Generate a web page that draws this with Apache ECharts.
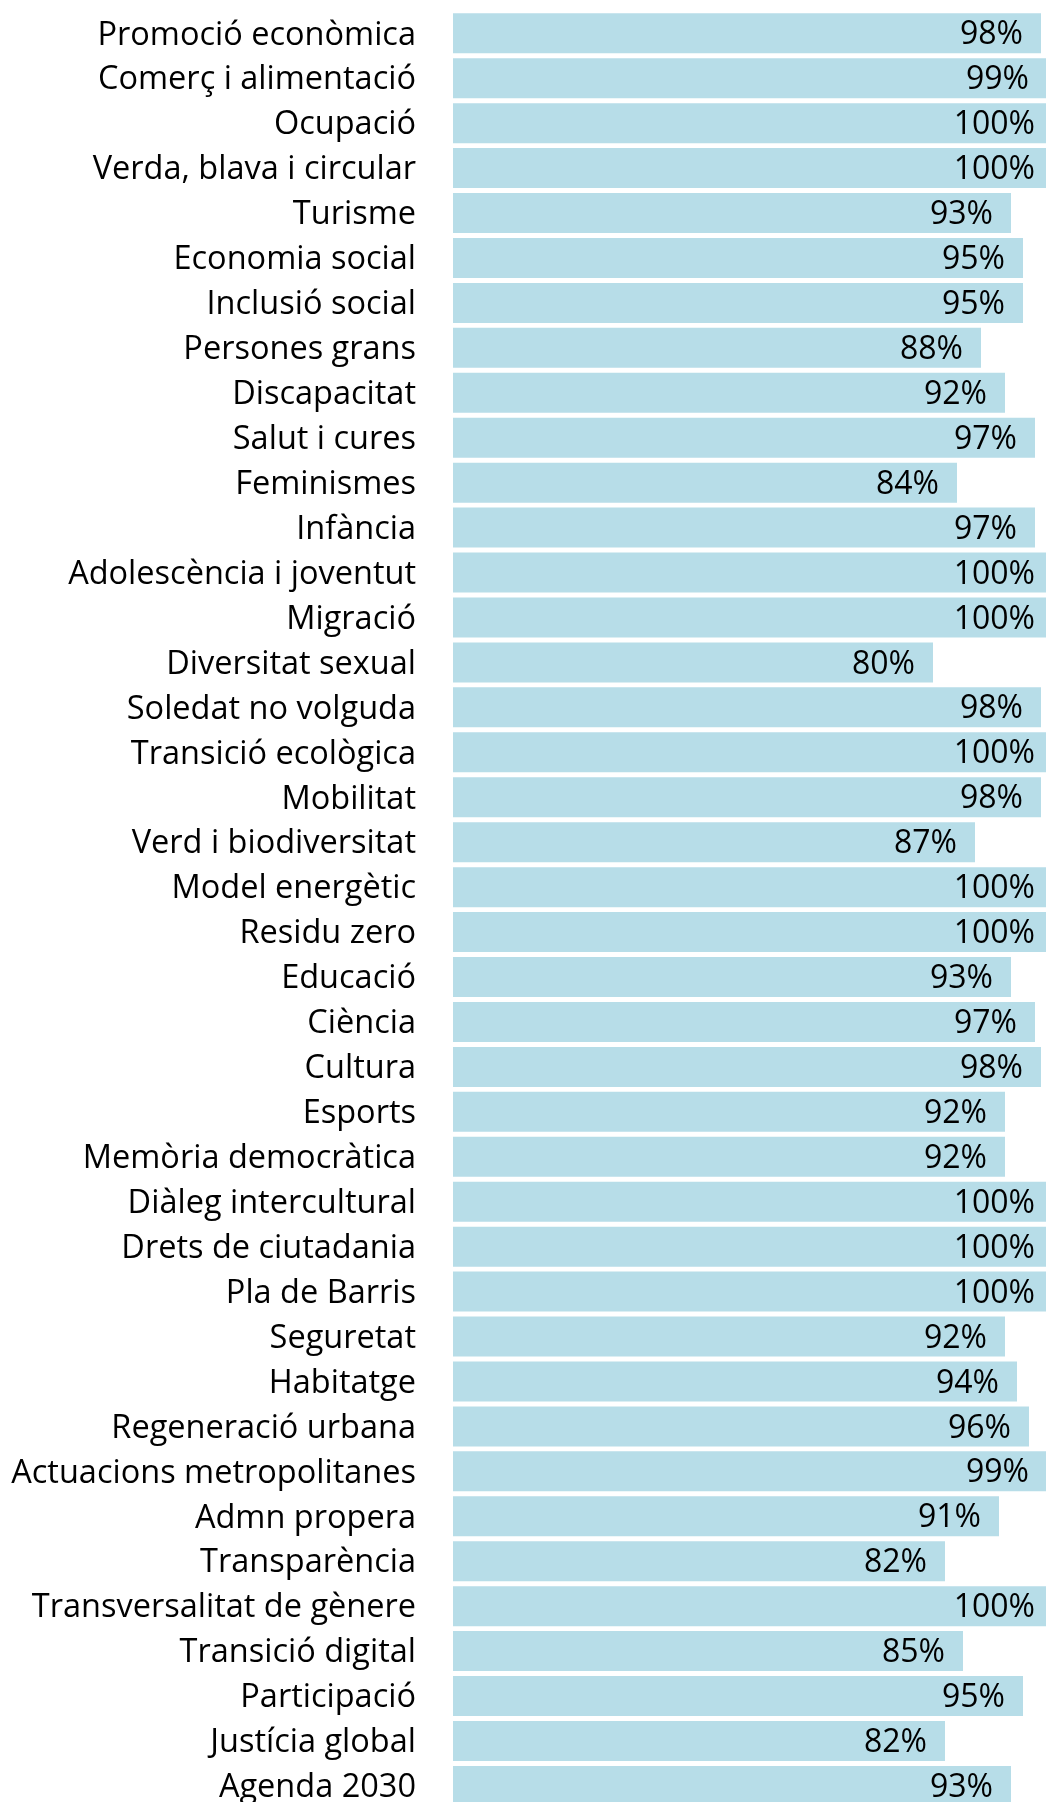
<!DOCTYPE html>
<html>
<head>
<meta charset="utf-8">
<script src="https://cdn.jsdelivr.net/npm/echarts@6/dist/echarts.min.js"></script>
<style>
html,body{margin:0;padding:0;background:#fff;overflow:hidden;width:1046px;height:1802px;}
#chart{width:1070px;height:1830px;}
</style>
</head>
<body>
<div id="chart"></div>
<script>
const categories = [
  "Promoció econòmica","Comerç i alimentació","Ocupació","Verda, blava i circular","Turisme",
  "Economia social","Inclusió social","Persones grans","Discapacitat","Salut i cures",
  "Feminismes","Infància","Adolescència i joventut","Migració","Diversitat sexual",
  "Soledat no volguda","Transició ecològica","Mobilitat","Verd i biodiversitat","Model energètic",
  "Residu zero","Educació","Ciència","Cultura","Esports",
  "Memòria democràtica","Diàleg intercultural","Drets de ciutadania","Pla de Barris","Seguretat",
  "Habitatge","Regeneració urbana","Actuacions metropolitanes","Admn propera","Transparència",
  "Transversalitat de gènere","Transició digital","Participació","Justícia global","Agenda 2030"
];
const values = [
  98,99,100,100,93,
  95,95,88,92,97,
  84,97,100,100,80,
  98,100,98,87,100,
  100,93,97,98,92,
  92,100,100,100,92,
  94,96,99,91,82,
  100,85,95,82,93
];
const FONT = '"Open Sans"';
const chart = echarts.init(document.getElementById('chart'), null, {renderer:'canvas'});
chart.setOption({
  animation:false,
  grid:{left:453, top:10.8, width:600, height:1797.6, containLabel:false},
  xAxis:{type:'value', min:0, max:100, show:false},
  yAxis:{type:'category', data:categories, inverse:true,
    axisLine:{show:false}, axisTick:{show:false}, splitLine:{show:false},
    axisLabel:{margin:37, color:'#000', fontFamily:FONT, fontSize:32.5,
      formatter: v => '{a|' + v + '}',
      rich:{a:{fontFamily:FONT, fontSize:32.5, color:'#000', padding:[4,0,0,0]}}}},
  series:[{type:'bar', data:values, barCategoryGap:'11%',
    itemStyle:{color:'#B7DDE8'},
    label:{show:true, position:'insideRight', distance:18, offset:[0,2], color:'#000',
      fontFamily:FONT, fontSize:32, formatter: p => p.value + '%'}}]
});
</script>
</body>
</html>
